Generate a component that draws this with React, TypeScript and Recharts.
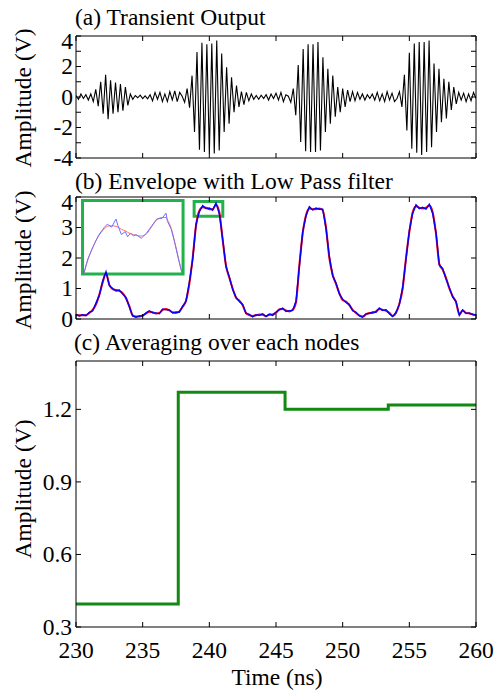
import React from 'react';
import { LineChart, Line, XAxis, YAxis, ReferenceArea } from 'recharts';

const FONT = '"Liberation Serif", "Times New Roman", Tinos, "DejaVu Serif", serif';
const FS = 23.5;
const TICK_LEN = 5;

// ---------- shared axis data ----------
const timeTicks = [230, 235, 240, 245, 250, 255, 260];
const transientTicks = [-4, -3, -2, -1, 0, 1, 2, 3, 4];
const transientLabelled = [-4, -2, 0, 2, 4];
const envelopeTicks = [0, 1, 2, 3, 4];
const averageTicks = [0.3, 0.6, 0.9, 1.2];

// ---------- (a) transient output: successive half-cycle extremes ----------
const transientStart = 230;
const transientStep = 30 / 162;
const transientValues = [
  0.1, -0.15, 0.2, -0.1, 0.15, -0.2, 0.2, -0.3, 0.5, -0.6,
  1.0, -1.1, 1.45, -1.45, 1.1, -1.1, 0.95, -1.0, 0.85, -0.9,
  0.65, -0.55, 0.2, -0.15, 0.1, -0.05, 0.12, -0.1, 0.08, -0.12,
  0.15, -0.25, 0.3, -0.15, 0.3, -0.3, 0.2, -0.3, 0.35, -0.2,
  0.4, -0.3, 0.3, 0.05, -0.35, 0.55, -0.7, 1.4, -2.3, 2.95,
  -3.45, 3.55, -3.6, 3.45, -3.7, 3.5, -3.7, 3.7, -3.5, 2.85,
  -2.3, 1.95, -1.75, 1.3, -1.0, 0.75, -0.65, 0.35, -0.5, 0.3,
  -0.25, 0.2, -0.15, 0.1, -0.15, 0.12, -0.1, 0.15, -0.2, 0.2,
  -0.1, 0.25, -0.2, 0.3, -0.3, 0.15, 0.05, -0.35, 0.55, -1.2,
  2.1, -2.95, 3.15, -3.55, 3.45, -3.6, 3.45, -3.6, 3.6, -3.5,
  2.6, -2.3, 1.85, -1.75, 1.4, -1.3, 0.65, -1.0, 0.55, -0.65,
  0.45, -0.3, 0.35, -0.25, 0.3, -0.15, 0.2, -0.2, 0.15, -0.1,
  0.2, -0.2, 0.3, -0.25, 0.2, -0.3, 0.35, -0.2, 0.25, -0.3,
  -0.1, 0.35, -0.65, 1.45, -2.2, 2.9, -3.4, 3.5, -3.65, 3.6,
  -3.8, 3.6, -3.6, 3.7, -3.3, 2.2, -2.3, 1.85, -1.65, 1.2,
  -1.4, 1.0, -0.85, 0.65, -0.45, 0.3, -0.2, 0.25, -0.3, 0.2,
  -0.25, 0.3, -0.1,
];

// ---------- (b) envelope ----------
const envelopeStart = 230;
const envelopeStep = 0.25;
const envelopeRed = [
  0.13, 0.12, 0.12, 0.13, 0.2, 0.3, 0.48, 0.8, 1.2, 1.5,
  1.12, 0.98, 0.95, 0.92, 0.85, 0.68, 0.42, 0.12, 0.08, 0.08,
  0.12, 0.18, 0.24, 0.22, 0.18, 0.2, 0.3, 0.33, 0.28, 0.22,
  0.2, 0.25, 0.4, 0.6, 1.15, 2.0, 3.05, 3.55, 3.66, 3.65,
  3.6, 3.6, 3.75, 3.5, 2.6, 1.75, 1.35, 1.0, 0.7, 0.6,
  0.45, 0.2, 0.13, 0.1, 0.12, 0.15, 0.14, 0.1, 0.14, 0.15,
  0.2, 0.32, 0.33, 0.28, 0.25, 0.3, 0.55, 1.75, 2.8, 3.4,
  3.62, 3.6, 3.6, 3.62, 3.57, 3.0, 2.0, 1.45, 1.15, 0.85,
  0.62, 0.57, 0.45, 0.3, 0.2, 0.12, 0.08, 0.15, 0.2, 0.2,
  0.25, 0.33, 0.3, 0.27, 0.2, 0.1, 0.2, 0.5, 1.0, 2.0,
  2.85, 3.5, 3.7, 3.65, 3.62, 3.65, 3.72, 3.5, 2.8, 1.8,
  1.62, 1.35, 1.0, 0.75, 0.55, 0.15, 0.28, 0.2, 0.18, 0.16,
  0.12,
];
const envelopeBlue = [
  0.15, 0.1, 0.14, 0.11, 0.22, 0.27, 0.52, 0.78, 1.24, 1.55,
  1.1, 1.0, 0.92, 0.95, 0.82, 0.7, 0.4, 0.1, 0.06, 0.1,
  0.1, 0.2, 0.27, 0.2, 0.2, 0.17, 0.33, 0.3, 0.3, 0.2,
  0.23, 0.22, 0.42, 0.58, 1.2, 1.95, 3.1, 3.52, 3.72, 3.62,
  3.64, 3.57, 3.8, 3.45, 2.62, 1.72, 1.38, 0.97, 0.72, 0.57,
  0.48, 0.18, 0.15, 0.07, 0.14, 0.12, 0.17, 0.08, 0.16, 0.12,
  0.23, 0.3, 0.36, 0.25, 0.27, 0.28, 0.58, 1.72, 2.85, 3.38,
  3.68, 3.58, 3.64, 3.6, 3.6, 2.97, 2.05, 1.42, 1.18, 0.82,
  0.65, 0.54, 0.48, 0.27, 0.22, 0.1, 0.06, 0.17, 0.18, 0.23,
  0.22, 0.36, 0.28, 0.3, 0.17, 0.08, 0.22, 0.47, 1.04, 1.96,
  2.9, 3.46, 3.74, 3.62, 3.66, 3.6, 3.76, 3.46, 2.83, 1.77,
  1.65, 1.32, 1.03, 0.72, 0.58, 0.12, 0.3, 0.18, 0.2, 0.14,
  0.13,
];

// zoomed inset of the second plateau
const insetTime = [
  238.86, 238.94, 239.05, 239.16, 239.27, 239.34, 239.43, 239.52, 239.56, 239.63,
  239.71, 239.76, 239.82, 239.88, 239.93, 240.04, 240.15, 240.26, 240.36, 240.47,
  240.55, 240.58, 240.66, 240.73, 240.81, 240.88,
];
const insetRed = [
  3.37, 3.46, 3.55, 3.62, 3.665, 3.685, 3.69, 3.685, 3.68, 3.665,
  3.655, 3.645, 3.635, 3.63, 3.625, 3.62, 3.635, 3.685, 3.73, 3.745,
  3.745, 3.73, 3.67, 3.58, 3.465, 3.37,
];
const insetBlue = [
  3.37, 3.465, 3.55, 3.625, 3.675, 3.7, 3.68, 3.735, 3.69, 3.63,
  3.65, 3.615, 3.64, 3.62, 3.63, 3.605, 3.64, 3.69, 3.735, 3.74,
  3.775, 3.72, 3.665, 3.575, 3.46, 3.37,
];

// ---------- (c) averaging ----------
const averageTime = [230, 237.67, 245.68, 253.42, 260];
const averageValue = [0.395, 1.271, 1.2, 1.218, 1.218];

// ---------- tables ----------
const transientData = transientValues.map((v, i) => ({ t: transientStart + i * transientStep, v }));
const envelopeData = envelopeRed.map((r, i) => ({ t: envelopeStart + i * envelopeStep, red: r, blue: envelopeBlue[i] }));
const insetData = insetTime.map((t, i) => ({ t, red: insetRed[i], blue: insetBlue[i] }));
const averageData = averageTime.map((t, i) => ({ t, v: averageValue[i] }));

const GREEN_BOX = '#22b14c';
const GREEN_LINE = '#128a12';

// ---------- tick renderers ----------
type Side = 'left' | 'right' | 'top' | 'bottom';
const makeTick = (side: Side, opts: { label?: (v: number) => string | null; topValue?: number; labelGap?: number } = {}) =>
  (props: any) => {
    const { x, y, payload } = props;
    const v = payload.value as number;
    let line;
    if (side === 'left') line = <line x1={x} y1={y} x2={x + TICK_LEN} y2={y} stroke="#000" strokeWidth={1} />;
    else if (side === 'right') line = <line x1={x} y1={y} x2={x - TICK_LEN} y2={y} stroke="#000" strokeWidth={1} />;
    else if (side === 'top') line = <line x1={x} y1={y} x2={x} y2={y + TICK_LEN} stroke="#000" strokeWidth={1} />;
    else line = <line x1={x} y1={y} x2={x} y2={y - TICK_LEN} stroke="#000" strokeWidth={1} />;
    const text = opts.label ? opts.label(v) : null;
    let label = null;
    if (text !== null && text !== undefined) {
      if (side === 'left') {
        const shift = opts.topValue !== undefined && v === opts.topValue ? 5 : 0;
        label = (
          <text x={x - (opts.labelGap ?? 3)} y={y + 7.8 + shift} textAnchor="end" style={{ fontFamily: FONT, fontSize: FS }} fill="#000">
            {text}
          </text>
        );
      } else if (side === 'bottom') {
        label = (
          <text x={x} y={y + 31} textAnchor="middle" style={{ fontFamily: FONT, fontSize: FS }} fill="#000">
            {text}
          </text>
        );
      }
    }
    return (
      <g>
        {line}
        {label}
      </g>
    );
  };

const axisLine = { stroke: '#000', strokeWidth: 1 };

function Frame(props: {
  yDomain: [number, number];
  yTicks: number[];
  leftLabel: (v: number) => string | null;
  bottomLabel?: (v: number) => string | null;
  topValue?: number;
  labelGap?: number;
}) {
  return [
    <XAxis
      key="xb"
      xAxisId="b"
      dataKey="t"
      type="number"
      domain={[230, 260]}
      ticks={timeTicks}
      interval={0}
      orientation="bottom"
      height={1}
      tickSize={0}
      tickMargin={0}
      tickLine={false}
      axisLine={axisLine}
      allowDataOverflow
      tick={makeTick('bottom', { label: props.bottomLabel })}
    />,
    <XAxis
      key="xt"
      xAxisId="t"
      dataKey="t"
      type="number"
      domain={[230, 260]}
      ticks={timeTicks}
      interval={0}
      orientation="top"
      height={1}
      tickSize={0}
      tickMargin={0}
      tickLine={false}
      axisLine={axisLine}
      allowDataOverflow
      tick={makeTick('top')}
    />,
    <YAxis
      key="yl"
      yAxisId="l"
      type="number"
      domain={props.yDomain}
      ticks={props.yTicks}
      interval={0}
      orientation="left"
      width={76}
      tickSize={0}
      tickMargin={0}
      tickLine={false}
      axisLine={axisLine}
      allowDataOverflow
      tick={makeTick('left', { label: props.leftLabel, topValue: props.topValue, labelGap: props.labelGap })}
    />,
    <YAxis
      key="yr"
      yAxisId="r"
      type="number"
      domain={props.yDomain}
      ticks={props.yTicks}
      interval={0}
      orientation="right"
      width={1}
      tickSize={0}
      tickMargin={0}
      tickLine={false}
      axisLine={axisLine}
      allowDataOverflow
      tick={makeTick('right')}
    />,
  ];
}

const svgStyle = { overflow: 'visible' as const };

export default function App() {
  return (
    <div style={{ position: 'absolute', left: 0, top: 0, width: 495, height: 691, background: '#fff', overflow: 'hidden' }}>
      {/* (a) */}
      <div style={{ position: 'absolute', left: 0, top: 0 }}>
        <LineChart width={495} height={176} data={transientData} margin={{ top: 35, right: 18, bottom: 17, left: 0 }} style={svgStyle}>
          {Frame({
            yDomain: [-4, 4],
            yTicks: transientTicks,
            leftLabel: (v) => (transientLabelled.includes(v) ? String(v) : null),
            topValue: 4,
          })}
          <Line xAxisId="b" yAxisId="l" dataKey="v" type="linear" stroke="#000" strokeWidth={1.1} dot={false} isAnimationActive={false} />
        </LineChart>
      </div>

      {/* (b) */}
      <div style={{ position: 'absolute', left: 0, top: 170 }}>
        <LineChart width={495} height={167} data={envelopeData} margin={{ top: 26, right: 18, bottom: 17, left: 0 }} style={svgStyle}>
          {Frame({
            yDomain: [0, 4],
            yTicks: envelopeTicks,
            leftLabel: (v) => String(v),
            topValue: 4,
          })}
          <Line xAxisId="b" yAxisId="l" dataKey="red" type="monotone" stroke="#ff0000" strokeWidth={2} dot={false} isAnimationActive={false} />
          <Line xAxisId="b" yAxisId="l" dataKey="blue" type="linear" stroke="#0000ff" strokeWidth={1.4} dot={false} isAnimationActive={false} />
          <ReferenceArea xAxisId="b" yAxisId="l" x1={230.49} x2={238.03} y1={1.475} y2={3.885} fill="#ffffff" fillOpacity={1} stroke={GREEN_BOX} strokeWidth={3} ifOverflow="visible" />
          <ReferenceArea xAxisId="b" yAxisId="l" x1={238.86} x2={241.01} y1={3.37} y2={3.85} fill="none" fillOpacity={0} stroke={GREEN_BOX} strokeWidth={3} ifOverflow="visible" />
        </LineChart>
      </div>

      {/* inset */}
      <div style={{ position: 'absolute', left: 84, top: 202 }}>
        <LineChart width={98} height={71} data={insetData} margin={{ top: 0, right: 0, bottom: 0, left: 0 }}>
          <XAxis dataKey="t" type="number" domain={[238.86, 240.88]} hide />
          <YAxis type="number" domain={[3.37, 3.85]} hide />
          <Line dataKey="red" type="monotone" stroke="#ff7070" strokeWidth={1} dot={false} isAnimationActive={false} />
          <Line dataKey="blue" type="linear" stroke="#7070ff" strokeWidth={1} dot={false} isAnimationActive={false} />
        </LineChart>
      </div>

      {/* (c) */}
      <div style={{ position: 'absolute', left: 0, top: 335 }}>
        <LineChart width={495} height={356} data={averageData} margin={{ top: 25, right: 18, bottom: 63, left: 0 }} style={svgStyle}>
          {Frame({
            yDomain: [0.3, 1.4],
            yTicks: averageTicks,
            leftLabel: (v) => v.toFixed(1),
            bottomLabel: (v) => String(v),
            labelGap: 4,
          })}
          <Line xAxisId="b" yAxisId="l" dataKey="v" type="stepAfter" stroke={GREEN_LINE} strokeWidth={3} dot={false} isAnimationActive={false} />
        </LineChart>
      </div>

      {/* texts */}
      <svg width={495} height={691} style={{ position: 'absolute', left: 0, top: 0, pointerEvents: 'none' }}>
        <g style={{ fontFamily: FONT, fontSize: FS }} fill="#000">
          <text x={75} y={25}>(a) Transient Output</text>
          <text x={75} y={189}>(b) Envelope with Low Pass filter</text>
          <text x={74} y={350}>(c) Averaging over each nodes</text>
          <text x={31} y={98} textAnchor="middle" transform="rotate(-90 31 98)">Amplitude (V)</text>
          <text x={31} y={260} textAnchor="middle" transform="rotate(-90 31 260)">Amplitude (V)</text>
          <text x={31} y={489} textAnchor="middle" transform="rotate(-90 31 489)">Amplitude (V)</text>
          <text x={277} y={685} textAnchor="middle">Time (ns)</text>
        </g>
      </svg>
    </div>
  );
}
